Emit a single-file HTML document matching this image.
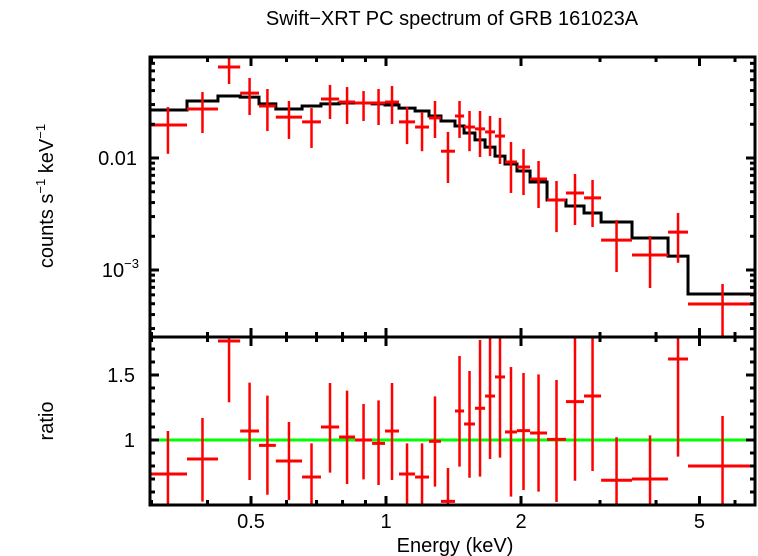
<!DOCTYPE html>
<html><head><meta charset="utf-8">
<style>
html,body{margin:0;padding:0;background:#fff;}
svg{display:block;font-family:"Liberation Sans",Arial,sans-serif;}
</style></head>
<body>
<svg id="chart" width="758" height="556" viewBox="0 0 758 556" xmlns="http://www.w3.org/2000/svg">
<text x="452" y="25" font-size="20" text-anchor="middle">Swift−XRT PC spectrum of GRB 161023A</text>
<text transform="translate(53,196) rotate(-90)" font-size="20" text-anchor="middle">counts s<tspan font-size="13" dy="-8">−1</tspan><tspan dy="8"> keV</tspan><tspan font-size="13" dy="-8">−1</tspan></text>
<text transform="translate(53,421) rotate(-90)" font-size="20" text-anchor="middle">ratio</text>
<text x="455" y="552" font-size="20" text-anchor="middle">Energy (keV)</text>
<g id="g"></g>
</svg>
<script>
// bin edges (keV)
const binEdges=[0.296,0.360,0.422,0.473,0.521,0.568,0.650,0.716,0.786,0.853,0.931,0.995,1.069,1.161,1.247,1.326,1.425,1.493,1.579,1.663,1.750,1.842,1.959,2.095,2.286,2.519,2.764,3.017,3.536,4.255,4.714,6.72];
// observed counts s^-1 keV^-1 and error bounds
const counts=[0.0197,0.0274,0.0649,0.0380,0.0291,0.0232,0.0210,0.0336,0.0316,0.0310,0.0310,0.0316,0.0210,0.0189,0.0228,0.0115,0.0237,0.0189,0.0182,0.0171,0.0157,0.00921,0.00831,0.00649,0.00422,0.00487,0.00440,0.00185,0.00136,0.00218,0.000497];
const countsHi=[0.0285,0.0388,0.0832,0.0518,0.0413,0.0323,0.0279,0.0449,0.0430,0.0396,0.0413,0.0440,0.0285,0.0258,0.0323,0.0171,0.0323,0.0263,0.0263,0.0237,0.0228,0.0139,0.0120,0.00940,0.00623,0.00720,0.00637,0.00279,0.00201,0.00323,0.000750];
const countsLo=[0.0109,0.0167,0.0458,0.0242,0.0174,0.0148,0.0123,0.0223,0.0201,0.0214,0.0197,0.0201,0.0133,0.0115,0.0151,0.00598,0.0151,0.0115,0.0102,0.0104,0.00884,0.00487,0.00467,0.00358,0.00218,0.00252,0.00242,0.000960,0.000691,0.00116,0.0002];
// model counts per bin
const model=[0.0268,0.0323,0.0358,0.0350,0.0304,0.0274,0.0291,0.0304,0.0310,0.0310,0.0304,0.0297,0.0279,0.0263,0.0237,0.0214,0.0193,0.0167,0.0145,0.0125,0.0104,0.00884,0.00766,0.00611,0.00422,0.00373,0.00323,0.00268,0.00193,0.00133,0.000611];
// ratio and error bounds
const ratio=[0.738,0.854,1.762,1.069,0.959,0.838,0.715,1.10,1.023,1.0,0.974,1.069,0.738,0.715,0.99,0.528,1.223,1.123,1.244,1.338,1.485,1.062,1.072,1.054,1.005,1.295,1.338,0.69,0.70,1.623,0.80];
const ratioHi=[1.069,1.169,1.9,1.441,1.341,1.138,0.974,1.438,1.38,1.277,1.305,1.438,0.974,0.974,1.336,0.785,1.646,1.531,1.769,1.9,1.9,1.562,1.515,1.505,1.462,1.9,1.9,1.021,1.036,1.9,1.185];
const ratioLo=[0.4,0.526,1.29,0.692,0.579,0.538,0.4,0.749,0.662,0.697,0.654,0.692,0.4,0.4,0.641,0.4,0.795,0.71,0.718,0.854,0.864,0.564,0.615,0.603,0.523,0.687,0.762,0.4,0.4,0.872,0.4];
const xTicksMajor=[0.5,1,2,5];
const xTickLabels=["0.5","1","2","5"];
const xTicksMinor=[0.3,0.4,0.6,0.7,0.8,0.9,3,4,6];

const L=150,R=755,T1=57,B1=337,T2=337,B2=505;
const xs=e=>386+448.5*Math.log10(e);
const y1=c=>158-112*(Math.log10(c)+2);
const y2=r=>440-130*(r-1);
const NS="http://www.w3.org/2000/svg";
const g=document.getElementById('g');
function el(tag,attrs,parent){const e=document.createElementNS(NS,tag);for(const k in attrs)e.setAttribute(k,attrs[k]);(parent||g).appendChild(e);return e;}
function line(x1,y1_,x2,y2_,col,w,name){const e=el('line',{x1:x1,y1:y1_,x2:x2,y2:y2_,stroke:col,'stroke-width':w});

return e;}

const defs=el('defs',{});
const c1=el('clipPath',{id:'c1'},defs);el('rect',{x:L,y:T1,width:R-L,height:B1-T1},c1);
const c2=el('clipPath',{id:'c2'},defs);el('rect',{x:L,y:T2,width:R-L,height:B2-T2},c2);
const gTop=el('g',{'clip-path':'url(#c1)'});


const gBot=el('g',{'clip-path':'url(#c2)'});



let d='';
for(let i=0;i<model.length;i++){const xa=xs(binEdges[i]),xb=xs(binEdges[i+1]),y=y1(model[i]);d+=(i===0?'M':'L')+xa+','+y+'L'+xb+','+y;}
const mp=el('path',{d:d,fill:'none',stroke:'#000','stroke-width':3},gTop);



for(let i=0;i<counts.length;i++){
 const xa=xs(binEdges[i]),xb=xs(binEdges[i+1]),xc=(xa+xb)/2;
 const a=el('line',{x1:xa,x2:xb,y1:y1(counts[i]),y2:y1(counts[i]),stroke:'#f00','stroke-width':3},gTop);
 
 
 const b=el('line',{x1:xc,x2:xc,y1:y1(countsHi[i]),y2:y1(countsLo[i]),stroke:'#f00','stroke-width':2.5},gTop);
 
 
}
const gl=el('line',{x1:L,x2:R,y1:y2(1),y2:y2(1),stroke:'#0f0','stroke-width':3},gBot);


for(let i=0;i<ratio.length;i++){
 const xa=xs(binEdges[i]),xb=xs(binEdges[i+1]),xc=(xa+xb)/2;
 const a=el('line',{x1:xa,x2:xb,y1:y2(ratio[i]),y2:y2(ratio[i]),stroke:'#f00','stroke-width':3},gBot);
 
 
 const b=el('line',{x1:xc,x2:xc,y1:y2(ratioHi[i]),y2:y2(ratioLo[i]),stroke:'#f00','stroke-width':2.5},gBot);
 
 
}

for(const [t,b,n] of [[T1,B1,'top-panel-frame'],[T2,B2,'ratio-panel-frame']]){
 const r=el('rect',{x:L,y:t,width:R-L,height:b-t,fill:'none',stroke:'#000','stroke-width':3});
 
 
}
for(const [t,b] of [[T1,B1],[T2,B2]]){
 for(const v of xTicksMajor){const x=xs(v);line(x,t,x,t+9,'#000',3,'x-major-tick');line(x,b,x,b-9,'#000',3,'x-major-tick');}
 for(const v of xTicksMinor){const x=xs(v);line(x,t,x,t+5,'#000',3,'x-minor-tick');line(x,b,x,b-5,'#000',3,'x-minor-tick');}
}
xTicksMajor.forEach((v,i)=>{const t=el('text',{x:xs(v),y:528,'font-size':20,'text-anchor':'middle'});t.textContent=xTickLabels[i];

});
for(let dec=-4;dec<=-1;dec++){for(let m=1;m<=9;m++){const v=m*Math.pow(10,dec);const y=y1(v);if(y<T1+1||y>B1-1)continue;const len=m===1?9:5;
 line(L,y,L+len,y,'#000',3,'y-tick');line(R,y,R-len,y,'#000',3,'y-tick');}}
const t1=el('text',{x:137,y:165,'font-size':20,'text-anchor':'end'});t1.textContent='0.01';


const t2=el('text',{x:139,y:277,'font-size':20,'text-anchor':'end'});t2.innerHTML='10<tspan font-size="13" dy="-9">−3</tspan>';


for(let k=5;k<=17;k++){const v=k/10;const y=y2(v);if(y<T2+1||y>B2-1)continue;const len=(k===10||k===15)?9:5;
 line(L,y,L+len,y,'#000',3,'ratio-tick');line(R,y,R-len,y,'#000',3,'ratio-tick');}
for(const [v,s] of [[1,'1'],[1.5,'1.5']]){const t=el('text',{x:135,y:y2(v)+7,'font-size':20,'text-anchor':'end'});t.textContent=s;

}
</script>
</body></html>
